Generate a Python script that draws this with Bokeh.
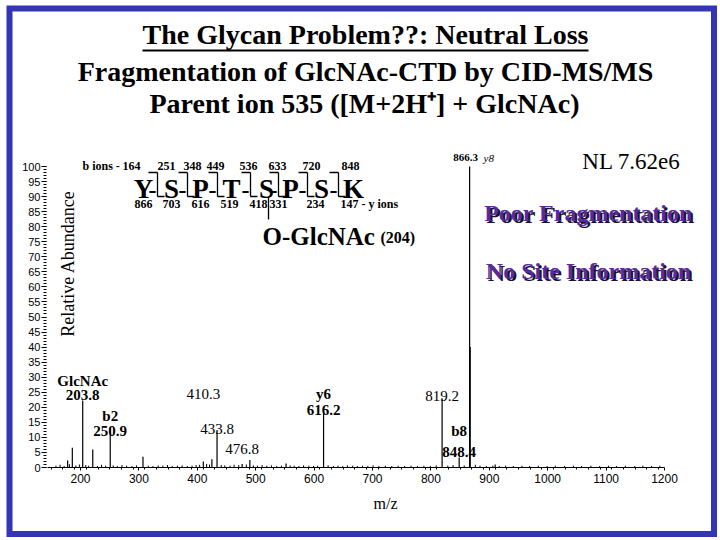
from bokeh.plotting import figure
from bokeh.models import Range1d, LinearAxis, FixedTicker, Label, ColumnDataSource
from bokeh.embed import file_html
from bokeh.resources import INLINE
import math

# ---------------- data ----------------
peak_mz = [178.0, 186.0, 203.8, 221.0, 250.9, 307.0, 410.3, 425.0, 433.8, 476.8,
           490.0, 552.0, 616.2, 819.2, 848.4, 866.3, 867.3, 910.0]
peak_ab = [2.3, 6.6, 22.3, 6.0, 13.5, 3.6, 2.0, 2.7, 12.5, 1.2,
           2.5, 1.3, 18.0, 23.0, 3.3, 100.0, 40.0, 1.0]

noise_mz = [158, 165, 172, 181, 192, 198, 209, 214, 229, 236, 243, 256, 263, 271, 279,
            288, 296, 316, 324, 333, 341, 349, 357, 366, 374, 383, 391, 398, 404, 416,
            421, 441, 447, 456, 463, 471, 484, 496, 503, 511, 519, 527, 536, 544, 559,
            566, 574, 582, 591, 599, 606, 624, 633, 641, 649, 657, 666, 674, 683, 692,
            701, 711, 722, 733, 744, 755, 766, 777, 788, 799, 809, 829, 838, 857, 876,
            884, 895, 906, 917, 928, 941, 956, 969, 984, 999, 1013, 1029, 1044, 1058, 1074,
            1089, 1104, 1118, 1133, 1149, 1163, 1178, 1192]
noise_ab = [0.6, 0.9, 0.5, 1.1, 0.7, 1.0, 0.8, 0.6, 0.5, 0.9, 0.6, 0.7, 0.5, 0.8, 0.6,
            0.5, 0.7, 0.6, 0.5, 0.7, 0.6, 0.8, 0.5, 0.6, 0.7, 0.5, 0.6, 0.8, 0.9, 1.2,
            1.0, 0.8, 0.7, 0.6, 0.9, 0.8, 1.0, 0.7, 0.6, 0.8, 0.6, 0.7, 0.5, 0.6, 0.7,
            0.6, 0.5, 0.7, 0.6, 0.5, 0.6, 0.7, 0.5, 0.6, 0.5, 0.7, 0.6, 0.5, 0.6, 0.5,
            0.7, 0.5, 0.6, 0.5, 0.6, 0.5, 0.6, 0.5, 0.6, 0.5, 0.7, 0.6, 0.8, 0.7, 0.9,
            0.6, 0.5, 0.6, 0.5, 0.6, 0.5, 0.6, 0.5, 0.6, 0.5, 0.6, 0.5, 0.6, 0.5, 0.6,
            0.5, 0.6, 0.5, 0.6, 0.5, 0.6, 0.5, 0.6]

x_ticks = [200, 300, 400, 500, 600, 700, 800, 900, 1000, 1100, 1200]
x_minor = list(range(150, 1201, 20))
y_ticks = list(range(0, 101, 5))
y_minor = list(range(0, 101, 1))

title_lines = ["The Glycan Problem??: Neutral Loss",
               "Fragmentation of GlcNAc-CTD by CID-MS/MS",
               "Parent ion 535 ([M+2H\u207a] + GlcNAc)"]

residues = ["Y", "S", "P", "T", "S", "P", "S", "K"]
b_ions = ["164", "251", "348", "449", "536", "633", "720", "848"]
y_ions = ["866", "703", "616", "519", "418", "331", "234", "147"]

peak_label_text = ["GlcNAc", "203.8", "b2", "250.9", "410.3", "433.8", "476.8",
                   "y6", "616.2", "819.2", "b8", "848.4"]
peak_label_mz = [203.8, 203.8, 250.9, 250.9, 410.3, 433.8, 476.8,
                 616.2, 616.2, 819.2, 848.4, 848.4]
peak_label_bold = [True, True, True, True, False, False, False,
                   True, True, False, True, True]

# ---------------- layout (page pixels) ----------------
W, H = 718, 538
PX_PER_MZ = 0.584
MZ200_PX = 80.0
ZERO_PY = 467.0
PX_PER_AB = 3.01
SERIF = "Liberation Serif"


def X(px):
    return 200 + (px - MZ200_PX) / PX_PER_MZ


def Y(py):
    return (ZERO_PY - py) / PX_PER_AB


p = figure(width=W, height=H, x_range=Range1d(X(0), X(W)),
           y_range=Range1d(Y(H), Y(0)),
           x_axis_type=None, y_axis_type=None, toolbar_location=None,
           output_backend="svg", min_border=0, outline_line_color=None,
           background_fill_color="white", border_fill_color="white")

# axes
xaxis = LinearAxis(fixed_location=0, bounds=(144, 1200),
                   ticker=FixedTicker(ticks=x_ticks, minor_ticks=x_minor))
xaxis.major_tick_out = 3
xaxis.major_tick_in = 0
xaxis.minor_tick_out = 2
xaxis.minor_tick_in = 0
xaxis.major_label_standoff = 3
xaxis.major_label_text_font = "Liberation Sans"
xaxis.major_label_text_font_size = "12px"
xaxis.major_label_text_color = "black"
xaxis.axis_line_color = "black"
p.add_layout(xaxis, "below")

yaxis = LinearAxis(fixed_location=X(46), bounds=(0, 100),
                   ticker=FixedTicker(ticks=y_ticks, minor_ticks=y_minor))
yaxis.major_tick_out = 5
yaxis.major_tick_in = 0
yaxis.minor_tick_out = 3
yaxis.minor_tick_in = 0
yaxis.major_label_standoff = 1
yaxis.major_label_text_font = "Liberation Sans"
yaxis.major_label_text_font_size = "11px"
yaxis.major_label_text_color = "black"
yaxis.axis_line_color = None
p.add_layout(yaxis, "left")

# spectrum
noise_src = ColumnDataSource(dict(x=noise_mz, y=noise_ab, z=[0] * len(noise_mz)))
p.segment(x0="x", y0="z", x1="x", y1="y", source=noise_src, line_color="black", line_width=1)
peak_src = ColumnDataSource(dict(x=peak_mz, y=peak_ab, z=[0] * len(peak_mz)))
p.segment(x0="x", y0="z", x1="x", y1="y", source=peak_src, line_color="black", line_width=1.2)

BLUE = "#3434b6"
# slide border
p.quad(left=X(9), right=X(713.5), bottom=Y(533.5), top=Y(8), fill_color=None,
       line_color=BLUE, line_width=6, line_join="miter")


def lab(text, x, py, size, style="normal", color="black", align="center",
        font=SERIF, angle=0.0):
    p.add_layout(Label(x=x, y=Y(py), text=text, text_font=font,
                       text_font_size=f"{size}px", text_font_style=style,
                       text_color=color, text_align=align,
                       text_baseline="middle", angle=angle))


# title
lab(title_lines[0], X(365), 34, 28, "bold")
lab(title_lines[1], X(365), 71, 28, "bold")
lab(title_lines[2], X(364), 102.5, 28, "bold")
p.segment(x0=[X(142)], y0=[Y(50)], x1=[X(588)], y1=[Y(50)], line_color="black", line_width=2)

# axis titles
lab("Relative Abundance", X(67), 263, 18, angle=math.pi / 2)
lab("m/z", X(385), 503, 16)

# sequence diagram
res_px = [143, 171, 200, 231, 266, 290, 321, 353]
cut_px = [157, 187, 217, 250, 278, 307, 338]
b_px = [131, 166, 192, 215, 248, 277, 311, 350]
y_px = [143, 171, 200, 229, 258, 278, 315, 349]
lab("b ions -", X(82), 165, 12, "bold", align="left")
for t, px in zip(b_ions, b_px):
    lab(t, X(px), 165, 12, "bold")
for r, px in zip(residues, res_px):
    lab(r, X(px), 188.5, 27, "bold")
for px in cut_px:
    lab("-", X(px - 5), 190, 24, "bold")
lab(y_ions[-1] + " - y ions", X(340), 203, 12, "bold", align="left")
for t, px in zip(y_ions[:-1], y_px[:-1]):
    lab(t, X(px), 203, 12, "bold")
xs0, ys0, xs1, ys1 = [], [], [], []
for px in cut_px:
    xs0 += [X(px), X(px - 9), X(px)]
    ys0 += [Y(172), Y(172), Y(196)]
    xs1 += [X(px), X(px), X(px + 7)]
    ys1 += [Y(196), Y(172), Y(196)]
# O-GlcNAc attachment
xs0.append(X(268)); ys0.append(Y(197)); xs1.append(X(268)); ys1.append(Y(219))
p.segment(x0=xs0, y0=ys0, x1=xs1, y1=ys1, line_color="black", line_width=1.3)
lab("O-GlcNAc", X(262), 236, 25, "bold", align="left")
lab("(204)", X(380), 237, 16, "bold", align="left")

# top-right texts
lab("866.3", X(465), 157, 11, "bold")
lab("y8", X(483), 157, 11, "italic", align="left")
lab("NL 7.62e6", X(631), 160.5, 23)
PURPLE = "#5a2a9c"
for txt, py in [("Poor Fragmentation", 212), ("No Site Information", 270)]:
    lab(txt, X(590), py + 2, 24, "bold", color="#15152e")
    lab(txt, X(588), py, 24, "bold", color=PURPLE)

# peak labels
lab_py = [380, 394, 415, 430, 393, 428, 448, 393, 409, 395, 430, 451]
for t, mz, bold, py in zip(peak_label_text, peak_label_mz, peak_label_bold, lab_py):
    lab(t, mz, py, 15, "bold" if bold else "normal")

open("out.html", "w").write(file_html(p, INLINE))
